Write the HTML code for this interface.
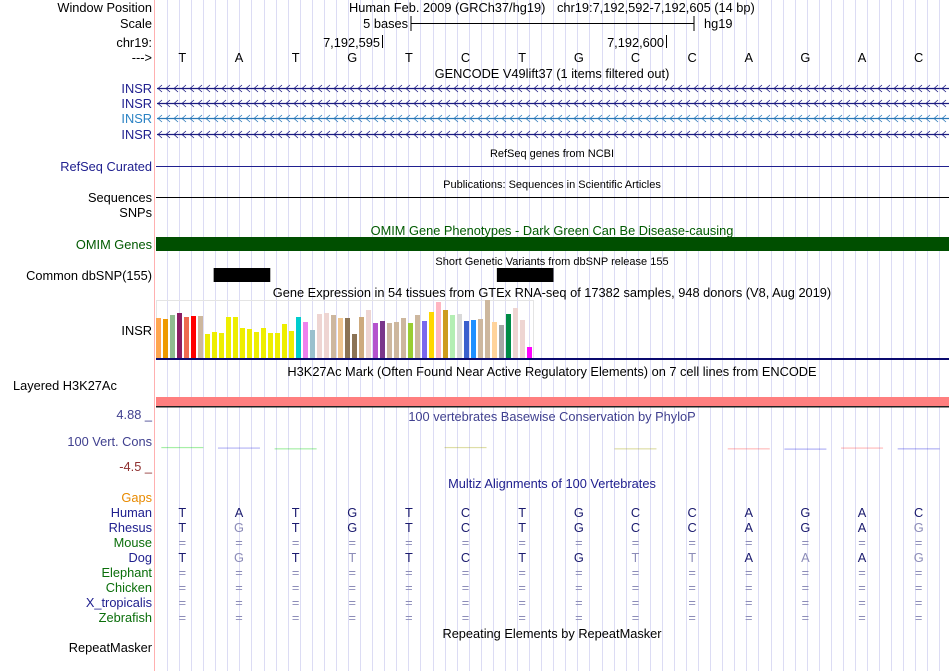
<!DOCTYPE html>
<html><head><meta charset="utf-8"><style>
html,body{margin:0;padding:0;background:#fff;}
svg{display:block;font-family:"Liberation Sans",sans-serif;font-size:12.8px;}
</style></head><body>
<svg id="s" width="950" height="671" viewBox="0 0 950 671" xmlns="http://www.w3.org/2000/svg">
<g id="grid"></g>
<line x1="154.5" y1="0" x2="154.5" y2="671" stroke="#ffb0b0" stroke-width="1"/>
<g text-anchor="end">
<text x="152" y="12">Window Position</text>
<text x="152" y="28">Scale</text>
<text x="152" y="47">chr19:</text>
<text x="152" y="62">---&gt;</text>
<text x="152" y="93" fill="#20208f">INSR</text>
<text x="152" y="108" fill="#20208f">INSR</text>
<text x="152" y="123" fill="#2a82c4">INSR</text>
<text x="152" y="139" fill="#20208f">INSR</text>
<text x="152" y="171" fill="#20208f">RefSeq Curated</text>
<text x="152" y="202">Sequences</text>
<text x="152" y="217">SNPs</text>
<text x="152" y="249" fill="#005a00">OMIM Genes</text>
<text x="152" y="280">Common dbSNP(155)</text>
<text x="152" y="335">INSR</text>
<text x="152" y="446" fill="#40408f">100 Vert. Cons</text>
<text x="152" y="502" fill="#e88a00">Gaps</text>
<text x="152" y="517" fill="#20208f">Human</text>
<text x="152" y="532" fill="#20208f">Rhesus</text>
<text x="152" y="547" fill="#0a6e0a">Mouse</text>
<text x="152" y="562" fill="#20208f">Dog</text>
<text x="152" y="577" fill="#0a6e0a">Elephant</text>
<text x="152" y="592" fill="#0a6e0a">Chicken</text>
<text x="152" y="607" fill="#20208f">X_tropicalis</text>
<text x="152" y="622" fill="#0a6e0a">Zebrafish</text>
<text x="152" y="652">RepeatMasker</text>
</g>
<text x="13" y="390">Layered H3K27Ac</text>
<text x="152" y="419" text-anchor="end" fill="#40408f">4.88 _</text>
<text x="152" y="471" text-anchor="end" fill="#8f3030">-4.5 _</text>

<text x="349" y="12">Human Feb. 2009 (GRCh37/hg19)</text>
<text x="557" y="12">chr19:7,192,592-7,192,605 (14 bp)</text>
<text x="408" y="28" text-anchor="end">5 bases</text>
<line x1="411" y1="16" x2="411" y2="31" stroke="#000"/>
<line x1="411" y1="23.5" x2="694" y2="23.5" stroke="#000"/>
<line x1="694" y1="16" x2="694" y2="31" stroke="#000"/>
<text x="704" y="28">hg19</text>
<text x="380" y="47" text-anchor="end">7,192,595</text>
<line x1="382.5" y1="35" x2="382.5" y2="48" stroke="#000"/>
<text x="664" y="47" text-anchor="end">7,192,600</text>
<line x1="666.5" y1="35" x2="666.5" y2="48" stroke="#000"/>
<g id="bases" text-anchor="middle"></g>

<g text-anchor="middle">
<text x="552" y="78">GENCODE V49lift37 (1 items filtered out)</text>
<text x="552" y="157" font-size="11">RefSeq genes from NCBI</text>
<text x="552" y="188" font-size="11">Publications: Sequences in Scientific Articles</text>
<text x="552" y="235" fill="#005a00">OMIM Gene Phenotypes - Dark Green Can Be Disease-causing</text>
<text x="552" y="265" font-size="11">Short Genetic Variants from dbSNP release 155</text>
<text x="552" y="297">Gene Expression in 54 tissues from GTEx RNA-seq of 17382 samples, 948 donors (V8, Aug 2019)</text>
<text x="552" y="376">H3K27Ac Mark (Often Found Near Active Regulatory Elements) on 7 cell lines from ENCODE</text>
<text x="552" y="421" fill="#40408f">100 vertebrates Basewise Conservation by PhyloP</text>
<text x="552" y="488" fill="#20208f">Multiz Alignments of 100 Vertebrates</text>
<text x="552" y="638">Repeating Elements by RepeatMasker</text>
</g>
<g id="genes"></g>
<line x1="156" y1="166.5" x2="949" y2="166.5" stroke="#20208f"/>
<line x1="156" y1="197.5" x2="949" y2="197.5" stroke="#000"/>
<rect x="156" y="237" width="793" height="14" fill="#004f00"/>
<g id="snps"></g>
<rect x="156.5" y="300.5" width="377" height="58" fill="none" stroke="#e4e4e4"/>
<g id="gtex"></g>
<rect x="156" y="358" width="793" height="2" fill="#0a0a6e"/>
<rect x="156" y="397" width="793" height="10" fill="#ff7f7f"/>
<rect x="156" y="406" width="793" height="1.5" fill="#202020"/>
<g id="cons"></g>
<g id="maf" text-anchor="middle"></g>
</svg>
<script>
const baseSeq = ['T','A','T','G','T','C','T','G','C','C','A','G','A','C'];
const gtexValues = [40,39,43,45,41,42,42,24,26,25,41,41,30,29,26,30,25,25,34,27,41,36,28,44,45,43,40,40,24,41,48,35,37,35,36,40,35,43,37,46,56,48,43,44,37,38,39,58,36,33,44,50,38,11];
const gtexColors = ['#FFA54F','#EE9A00','#8FBC8F','#8B1C62','#EE6A50','#FF0000','#CDB79E','#EEEE00','#EEEE00','#EEEE00','#EEEE00','#EEEE00','#EEEE00','#EEEE00','#EEEE00','#EEEE00','#EEEE00','#EEEE00','#EEEE00','#EEEE00','#00CDCD','#EE82EE','#9AC0CD','#EED5D2','#EED5D2','#CDB79E','#EEC591','#8B7355','#8B7355','#CDAA7D','#EED5D2','#B452CD','#7A378B','#CDB79E','#CDB79E','#CDB79E','#9ACD32','#CDB79E','#7A67EE','#FFD700','#FFB6C1','#CD9B1D','#B4EEB4','#D9D9D9','#3A5FCD','#1E90FF','#CDB79E','#CDB79E','#FFD39B','#A6A6A6','#008B45','#EED5D2','#EED5D2','#FF00FF'];
const snpStarts = [1, 6];
const consScores = [0.4, 0.2, -0.1, 0, 0, 0.4, 0, 0, -0.1, -0.1, -0.1, -0.2, 0.2, -0.1];
const consColors = ['#00d000','#3030e0','#00d000',null,null,'#a0a000',null,null,'#a0a000',null,'#ff4040','#2020e0','#ff4040','#2020e0'];
const mafRows = [
 {y:517, seq:'TATGTCTGCCAGAC', light:'00000000000000'},
 {y:532, seq:'TGTGTCTGCCAGAG', light:'01000000000001'},
 {y:547, seq:'==============', light:'11111111111111'},
 {y:562, seq:'TGTTTCTGTTAAAG', light:'01010000110101'},
 {y:577, seq:'==============', light:'11111111111111'},
 {y:592, seq:'==============', light:'11111111111111'},
 {y:607, seq:'==============', light:'11111111111111'},
 {y:622, seq:'==============', light:'11111111111111'}
];
const NS='http://www.w3.org/2000/svg';
const X0=154, X1=947, BW=(X1-X0)/baseSeq.length;
function bx(i){return X0+BW*(i+0.5);}
function mk(tag,attrs,parent){const e=document.createElementNS(NS,tag);for(const k in attrs)e.setAttribute(k,attrs[k]);parent.appendChild(e);return e;}
const grid=document.getElementById('grid');
for(let x=167;x<949;x+=12.07){
 const l=mk('line',{x1:Math.round(x)+0.5,y1:0,x2:Math.round(x)+0.5,y2:671,stroke:'#dcdcf4'},grid);
 
 
}
const bases=document.getElementById('bases');
baseSeq.forEach((b,i)=>{
 const t=mk('text',{x:bx(i),y:62},bases);t.textContent=b;
 
 
});
const genes=document.getElementById('genes');
const geneY=[88,103,118,134], geneC=['#1a1a80','#1a1a80','#2a78b8','#1a1a80'];
geneY.forEach((y,r)=>{
 const g=mk('g',{stroke:geneC[r],fill:'none'},genes);
 
 
 mk('line',{x1:157,y1:y+0.5,x2:949,y2:y+0.5,'stroke-width':1.3},g);
 let d='';
 for(let x=158;x<946;x+=8){d+=`M${x+4} ${y-3}L${x} ${y+0.5}L${x+4} ${y+4}`;}
 mk('path',{d:d,'stroke-width':0.8},g);
});
const snps=document.getElementById('snps');
snpStarts.forEach(i=>{
 const r=mk('rect',{x:X0+BW*i+3,y:268,width:BW,height:14,fill:'#000'},snps);
 
 
});
const gtex=document.getElementById('gtex');
const gBase=358, gScale=1;
gtexValues.forEach((v,i)=>{
 const h=v*gScale;
 const r=mk('rect',{x:156+7*i,y:gBase-h,width:5,height:h,fill:gtexColors[i]},gtex);
 
 
});
const cons=document.getElementById('cons');
const cTop=436, cBot=460, cMax=4.88, cMin=-4.5;
function cy(v){return cTop+(cMax-v)/(cMax-cMin)*(cBot-cTop);}
consScores.forEach((v,i)=>{
 if(!consColors[i])return;
 const y=cy(v);
 const r=mk('rect',{x:bx(i)-21,y:y-0.5,width:42,height:1.2,fill:consColors[i],opacity:0.35},cons);
 
 
});
const maf=document.getElementById('maf');
mafRows.forEach(row=>{
 [...row.seq].forEach((c,i)=>{
  const t=mk('text',{x:bx(i),y:row.y,fill:row.light[i]==='1'?'#8c8cb8':'#1a1a6e'},maf);
  t.textContent=c;
  
  
 });
});
</script>
</body></html>
